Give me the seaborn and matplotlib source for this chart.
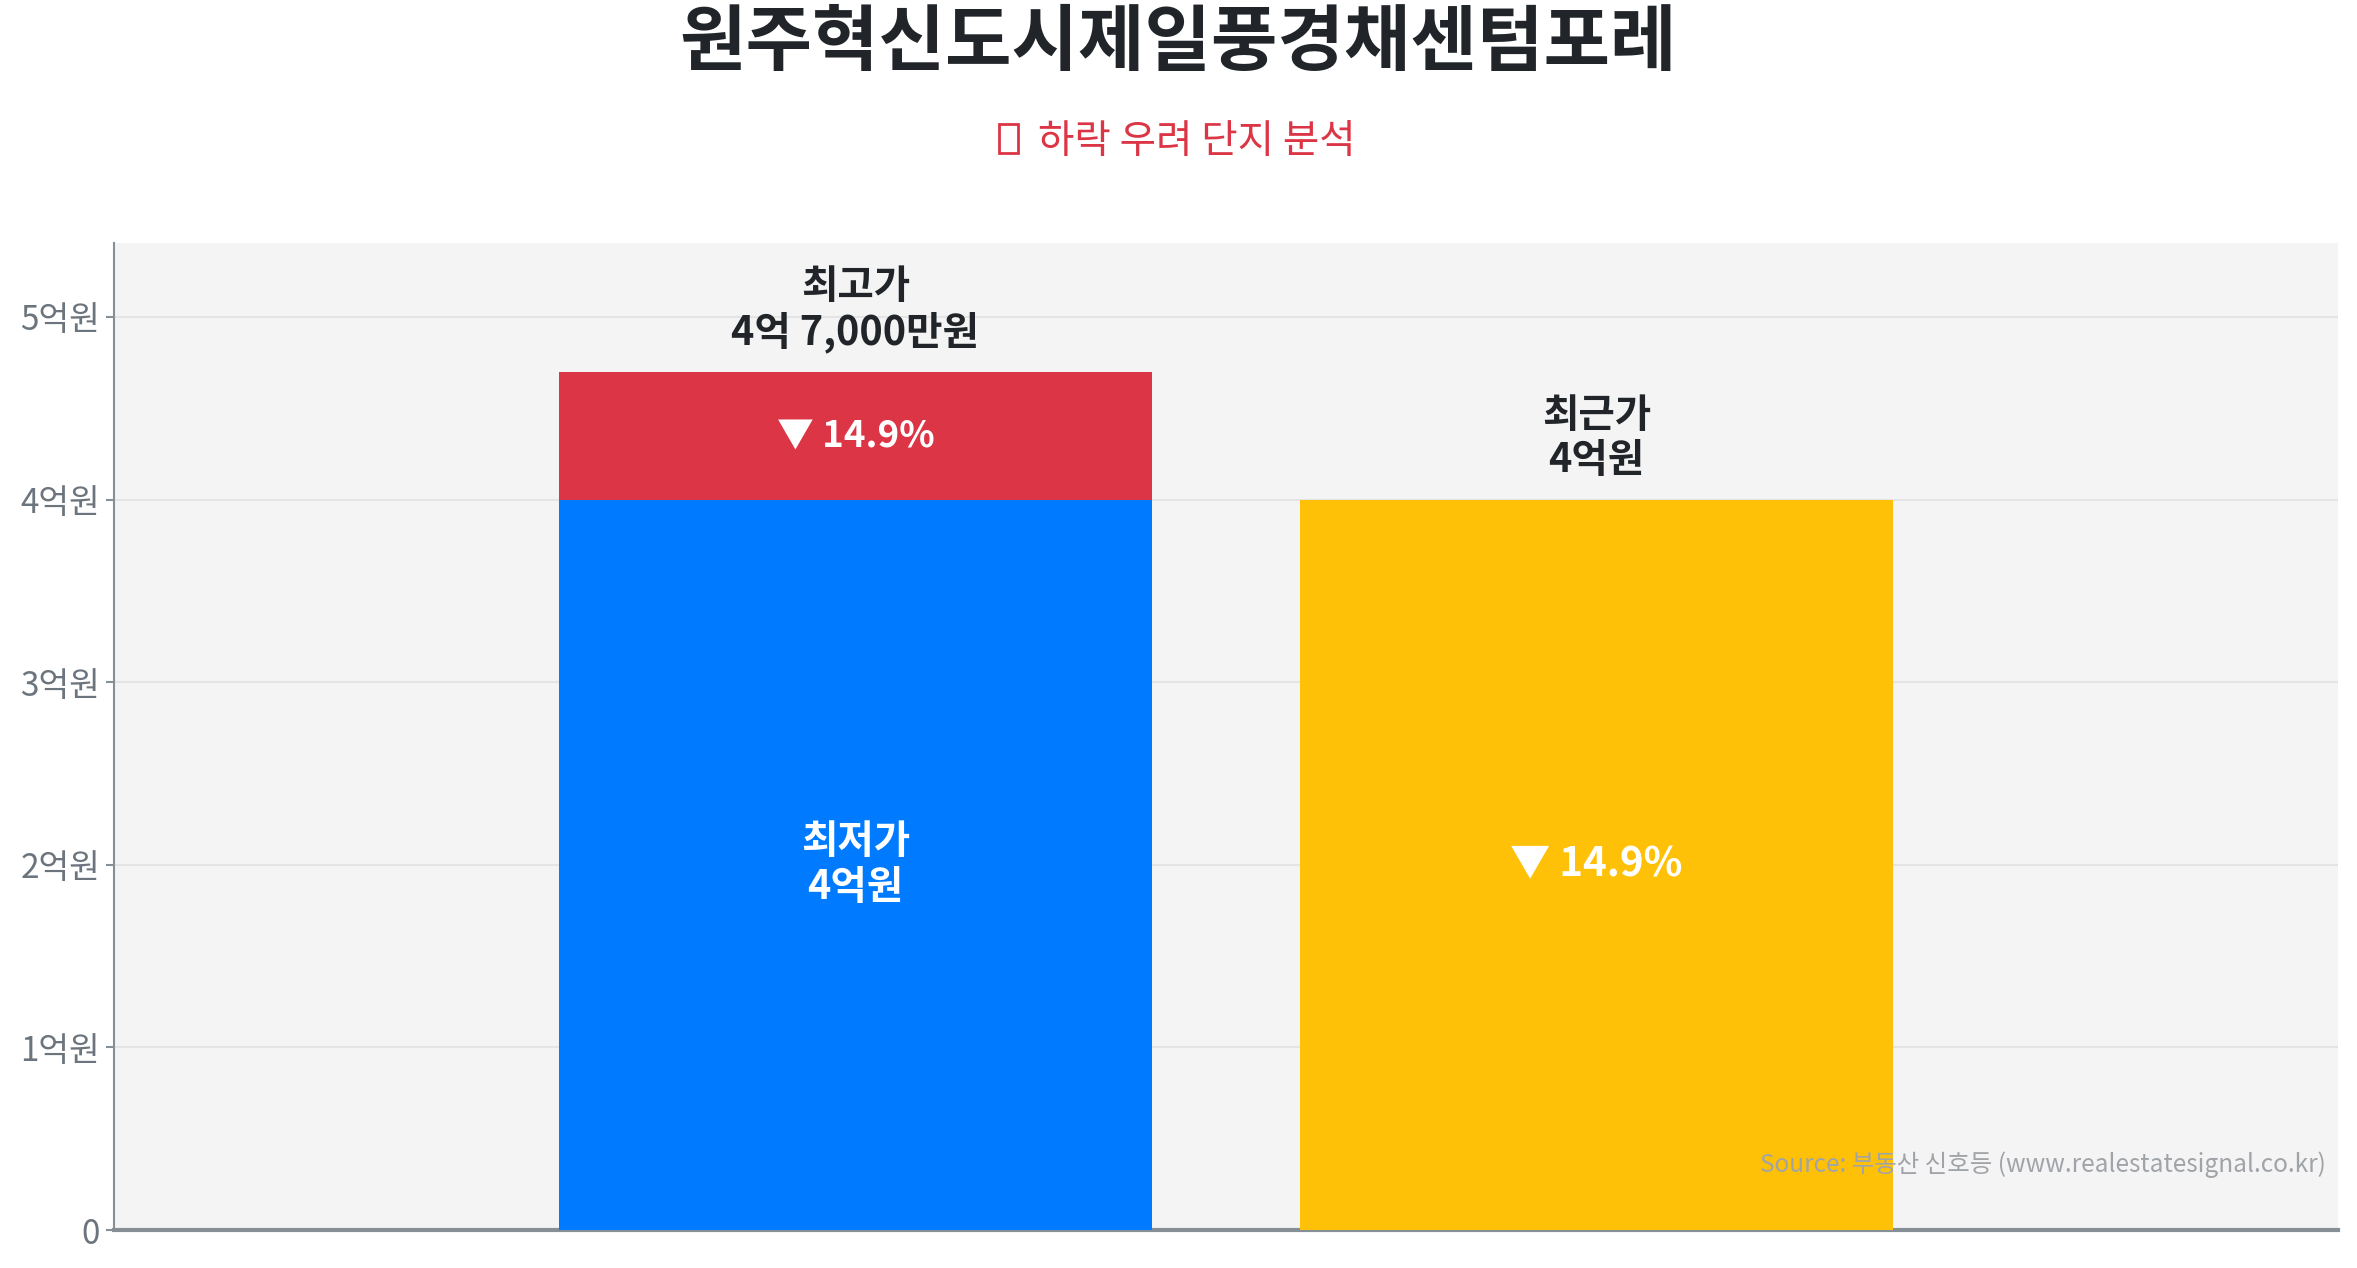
import numpy as np
import pandas as pd
import matplotlib
matplotlib.use('Agg')
import matplotlib.pyplot as plt
from matplotlib.patches import Rectangle
import seaborn as sns

# 데이터 (단위: 억원)
categories = ['최고가/최저가', '최근가']
high_price = [4.7, 0.0]
low_recent_price = [4.0, 4.0]
bar_colors = ['#007bff', '#ffc107']
drop_rate = 14.9
yticks = [0, 1, 2, 3, 4, 5]
ytick_labels = ['0', '1억원', '2억원', '3억원', '4억원', '5억원']

title = '원주혁신도시제일풍경채센텀포레'
subtitle = '하락 우려 단지 분석'   # 앞의 이모지는 설치된 폰트에 없어 빈 상자로 그림
source_text = 'Source: 부동산 신호등 (www.realestatesignal.co.kr)'

sns.set_theme(style='white')
plt.rcParams['font.family'] = ['Noto Sans CJK KR', 'DejaVu Sans']

df = pd.DataFrame({'cat': categories, 'high': high_price, 'base': low_recent_price})

W, H = 2357, 1268
fig = plt.figure(figsize=(W / 100, H / 100), dpi=100)
ax = fig.add_axes([114 / W, 1 - 1230 / H, (2338 - 114) / W, (1230 - 243) / H])
ax.set_facecolor('#f4f4f4')

# 최고가 (빨강) 먼저 그리고 위에 최저가/최근가를 덮음
sns.barplot(data=df, x='cat', y='high', color='#dc3545', width=0.8,
            saturation=1, linewidth=0, ax=ax, zorder=2)
sns.barplot(data=df, x='cat', y='base', hue='cat', palette=bar_colors,
            width=0.8, saturation=1, linewidth=0, legend=False, ax=ax, zorder=3)

ymax = max(high_price) * 1.15
ax.set_ylim(0, ymax)
ax.set_xlim(-1, 2)
ax.set_yticks(yticks)
ax.set_yticklabels(ytick_labels)
ax.tick_params(axis='y', labelsize=24, labelcolor='#6c757d', color='#868e96',
               length=6, width=1.5, left=True, pad=4)
ax.set_xticks([])
ax.set_xlabel('')
ax.set_ylabel('')
ax.yaxis.grid(True, color='#e4e4e4', linewidth=1.5, zorder=0)
ax.set_axisbelow(True)

for side in ['top', 'right']:
    ax.spines[side].set_visible(False)
ax.spines['left'].set_color('#868e96')
ax.spines['left'].set_linewidth(1.5)
ax.spines['bottom'].set_color('#868e96')
ax.spines['bottom'].set_linewidth(3)

dark = '#212529'
lbl_size = 28.5

# 최고가 라벨
ax.text(0, high_price[0] + 0.10, '최고가\n4억 7,000만원', ha='center', va='bottom',
        fontsize=lbl_size, fontweight='bold', color=dark, linespacing=1.15, zorder=5)
ax.text(0, (low_recent_price[0] + high_price[0]) / 2, f'▼ {drop_rate}%', ha='center',
        va='center', fontsize=26.5, fontweight='bold', color='white', zorder=5)
ax.text(0, low_recent_price[0] / 2, '최저가\n4억원', ha='center', va='center',
        fontsize=lbl_size, fontweight='bold', color='white', linespacing=1.15, zorder=5)

# 최근가 라벨
ax.text(1, low_recent_price[1] + 0.10, '최근가\n4억원', ha='center', va='bottom',
        fontsize=lbl_size, fontweight='bold', color=dark, linespacing=1.15, zorder=5)
ax.text(1, low_recent_price[1] / 2, f'▼ {drop_rate}%', ha='center', va='center',
        fontsize=29, fontweight='bold', color='white', zorder=5)

ax.text(0.9945, 0.066, source_text, transform=ax.transAxes, ha='right', va='center',
        fontsize=17.6, color='#a0a4a8', zorder=6)

fig.text(0.5, 1 - 44 / H, title, ha='center', va='center', fontsize=52,
         fontweight='bold', color=dark)
sub = fig.text(1197 / W, 1 - 142 / H, subtitle, ha='center', va='center',
               fontsize=28.5, color='#dc3545')

# 이모지 자리의 빈 상자
fig.canvas.draw()
bb = sub.get_window_extent()
box_right = bb.x0 - 20
fig.patches.append(Rectangle(((box_right - 19) / W, (H - 153) / H), 19 / W, 29 / H,
                             transform=fig.transFigure, fill=False,
                             edgecolor='#dc3545', linewidth=2))

fig.savefig('out.png', dpi=100)
